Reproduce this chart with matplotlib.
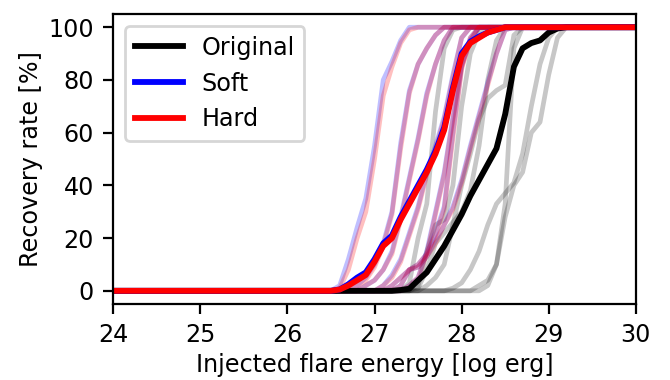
import numpy as np
import matplotlib.pyplot as plt

# energy grid [log erg]; everything below 26.5 is 0 %, above 29.3 is 100 %
energy = [24.0, 26.5, 26.6, 26.7, 26.8, 26.9, 27.0, 27.1, 27.2, 27.3, 27.4,
          27.5, 27.6, 27.7, 27.8, 27.9, 28.0, 28.1, 28.2, 28.3, 28.4,
          28.5, 28.6, 28.7, 28.8, 28.9, 29.0, 29.1, 29.2, 29.3, 30.0]

# mean recovery curves
original = [0, 0, 0, 0, 0, 0, 0, 0, 0, 0.3, 0.8, 4, 7, 12, 17, 23, 29, 36, 42, 48, 54,
            67, 85, 92, 94, 95, 98, 99.5, 100, 100, 100]
soft = [0, 0, 0.5, 2.5, 5, 7, 12, 18, 21, 28, 34, 40, 46, 53, 62, 77, 90, 94.5, 96.5, 98, 99,
        100, 100, 100, 100, 100, 100, 100, 100, 100, 100]
hard = [0, 0, 0.5, 2, 4, 6, 11, 17, 20, 27, 33, 39, 45, 52, 61, 76, 89, 94, 96, 98, 99,
        100, 100, 100, 100, 100, 100, 100, 100, 100, 100]

# individual runs, original data
orig_runs = [
    [0, 0, 0, 0, 0, 0, 0, 0, 0, 0, 0, 0, 0, 0, 0, 0, 0, 0, 0, 2, 10,
     28, 40, 45, 60, 64, 82, 96, 100, 100, 100],
    [0, 0, 0, 0, 0, 0, 0, 0, 0, 0, 0, 0, 0, 0, 0, 0, 0, 0, 2, 4, 10,
     33, 92, 100, 100, 100, 100, 100, 100, 100, 100],
    [0, 0, 0, 0, 0, 0, 0, 0, 0, 0, 0, 0, 0, 0, 0, 1, 3, 8, 15, 25, 33,
     37, 41, 52, 70, 86, 96, 100, 100, 100, 100],
    [0, 0, 0, 0, 0, 0, 0, 0, 0, 0, 3, 20, 33, 68, 92, 99, 100, 100, 100, 100, 100,
     100, 100, 100, 100, 100, 100, 100, 100, 100, 100],
    [0, 0, 0, 0, 0, 0, 0, 0, 0, 0, 0, 0, 2, 5, 10, 25, 40, 52, 65, 73, 76,
     78, 97, 100, 100, 100, 100, 100, 100, 100, 100],
    [0, 0, 0, 0, 0, 0, 0, 0, 0, 0, 0, 2, 15, 25, 27, 40, 70, 90, 98, 100, 100,
     100, 100, 100, 100, 100, 100, 100, 100, 100, 100],
    [0, 0, 0, 0, 0, 0, 0, 0, 0, 0, 0, 1, 8, 18, 22, 26, 30, 38, 55, 80, 95,
     100, 100, 100, 100, 100, 100, 100, 100, 100, 100],
]

# individual runs, soft / hard filtered
soft_runs = [
    [0, 0, 2, 12, 24, 35, 55, 80, 87, 95, 100, 100, 100, 100, 100, 100, 100, 100, 100, 100, 100,
     100, 100, 100, 100, 100, 100, 100, 100, 100, 100],
    [0, 0, 0, 0, 2, 5, 10, 18, 30, 56, 76, 86, 92, 97, 100, 100, 100, 100, 100, 100, 100,
     100, 100, 100, 100, 100, 100, 100, 100, 100, 100],
    [0, 0, 0, 0, 0, 2, 4, 8, 15, 28, 43, 58, 75, 86, 95, 100, 100, 100, 100, 100, 100,
     100, 100, 100, 100, 100, 100, 100, 100, 100, 100],
    [0, 0, 0, 0, 0, 0, 0, 2, 6, 12, 22, 32, 45, 55, 66, 82, 96, 100, 100, 100, 100,
     100, 100, 100, 100, 100, 100, 100, 100, 100, 100],
    [0, 0, 0, 0, 0, 0, 0, 0, 2, 5, 8, 10, 14, 22, 32, 60, 85, 96, 100, 100, 100,
     100, 100, 100, 100, 100, 100, 100, 100, 100, 100],
    [0, 0, 0, 0, 0, 0, 0, 0, 0, 2, 8, 9, 13, 19, 25, 32, 42, 55, 67, 79, 90,
     99, 100, 100, 100, 100, 100, 100, 100, 100, 100],
    [0, 0, 0, 0, 0, 0, 0, 0, 0, 0, 2, 5, 15, 30, 45, 66, 86, 95, 100, 100, 100,
     100, 100, 100, 100, 100, 100, 100, 100, 100, 100],
]
hard_runs = [
    [0, 0, 1, 8, 20, 30, 50, 74, 85, 94, 99, 100, 100, 100, 100, 100, 100, 100, 100, 100, 100,
     100, 100, 100, 100, 100, 100, 100, 100, 100, 100],
    [0, 0, 0, 0, 2, 4, 9, 17, 29, 54, 75, 86, 92, 97, 100, 100, 100, 100, 100, 100, 100,
     100, 100, 100, 100, 100, 100, 100, 100, 100, 100],
    [0, 0, 0, 0, 0, 2, 4, 8, 14, 27, 42, 57, 74, 86, 95, 100, 100, 100, 100, 100, 100,
     100, 100, 100, 100, 100, 100, 100, 100, 100, 100],
    [0, 0, 0, 0, 0, 0, 0, 2, 5, 11, 21, 31, 44, 54, 65, 81, 96, 100, 100, 100, 100,
     100, 100, 100, 100, 100, 100, 100, 100, 100, 100],
    [0, 0, 0, 0, 0, 0, 0, 0, 2, 5, 8, 10, 14, 21, 31, 58, 84, 96, 100, 100, 100,
     100, 100, 100, 100, 100, 100, 100, 100, 100, 100],
    [0, 0, 0, 0, 0, 0, 0, 0, 0, 2, 8, 9, 13, 18, 25, 31, 41, 54, 66, 78, 90,
     99, 100, 100, 100, 100, 100, 100, 100, 100, 100],
    [0, 0, 0, 0, 0, 0, 0, 0, 0, 0, 2, 5, 14, 29, 44, 65, 85, 95, 100, 100, 100,
     100, 100, 100, 100, 100, 100, 100, 100, 100, 100],
]

plt.rcParams['font.size'] = 8.6

fig = plt.figure(figsize=(3.35, 1.9), dpi=200)
ax = fig.add_axes([0.169, 0.2, 0.78, 0.763])

for r in orig_runs:
    ax.plot(energy, r, color='k', alpha=0.22, lw=1.7)
for r in soft_runs:
    ax.plot(energy, r, color='b', alpha=0.25, lw=1.7)
for r in hard_runs:
    ax.plot(energy, r, color='r', alpha=0.25, lw=1.7)

ax.plot(energy, original, color='k', lw=2.1, label='Original')
ax.plot(energy, soft, color='b', lw=2.1, label='Soft')
ax.plot(energy, hard, color='r', lw=2.1, label='Hard')

ax.set_xlim(24, 30)
ax.set_ylim(-5, 105)
ax.set_xlabel('Injected flare energy [log erg]', labelpad=2)
ax.set_ylabel('Recovery rate [%]', labelpad=2)
ax.legend(loc='upper left')

fig.savefig('out.png', dpi=200)
